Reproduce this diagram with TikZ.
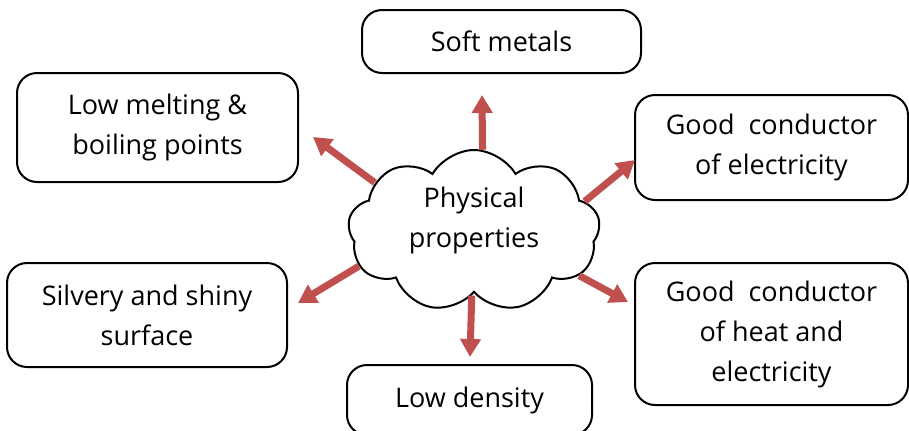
\documentclass[tikz,border=0pt]{standalone}
\usepackage{fontspec}
\setmainfont{Open Sans}
\usepackage{tikz}
\usetikzlibrary{shapes.symbols,arrows.meta}
\definecolor{arrowred}{RGB}{192,80,77}

\begin{document}
\begin{tikzpicture}[x=0.5pt, y=0.5pt,
    font=\fontsize{13.5}{20}\selectfont,
    box/.style={rectangle, draw, line width=1pt, rounded corners=10pt, align=center, inner sep=0pt},
    arrow/.style={-{Triangle[width=10pt,length=9pt]}, line width=3.5pt, arrowred}]
    \useasboundingbox (0,0) rectangle (909,430);

    % Centre cloud
    \node[cloud, draw, line width=1pt, fill=white, cloud puffs=9, cloud puff arc=120,
          minimum width=126pt, minimum height=81pt, cloud ignores aspect,
          inner sep=0pt, align=center] (phys) at (474,199) {Physical\\properties\\[-6pt]};

    % Properties
    \node[box, minimum width=139.5pt, minimum height=31.5pt] (soft) at (501.5,388.5) {Soft metals};
    \node[box, minimum width=140.5pt, minimum height=54.5pt] (melt) at (157.5,302.5) {Low melting \&\\boiling points};
    \node[box, minimum width=136.5pt, minimum height=52.5pt] (elec) at (771.5,282.5) {Good\ \ conductor\\of electricity};
    \node[box, minimum width=140pt, minimum height=52pt] (silver) at (147,115) {Silvery and shiny\\surface};
    \node[box, minimum width=136.5pt, minimum height=71pt] (heat) at (771.5,96) {Good\ \ conductor\\of heat and\\electricity};
    \node[box, minimum width=122.5pt, minimum height=35pt] (density) at (469.5,30) {Low density};

    % Arrow tips
    \coordinate (softtip) at (482,335);
    \coordinate (melttip) at (313,293);
    \coordinate (electip) at (635,270);
    \coordinate (silvertip) at (298,127);
    \coordinate (densitytip) at (470,73);
    \coordinate (heattip) at (628,128);

    % Arrows
    \draw[arrow] (phys.84) -- (softtip);
    \draw[arrow] (phys.154) -- (melttip);
    \draw[arrow] (phys.15) -- (electip);
    \draw[arrow] (phys.197) -- (silvertip);
    \draw[arrow] (phys.268) -- (densitytip);
    \draw[arrow] (phys.337) -- (heattip);

\end{tikzpicture}
\end{document}
